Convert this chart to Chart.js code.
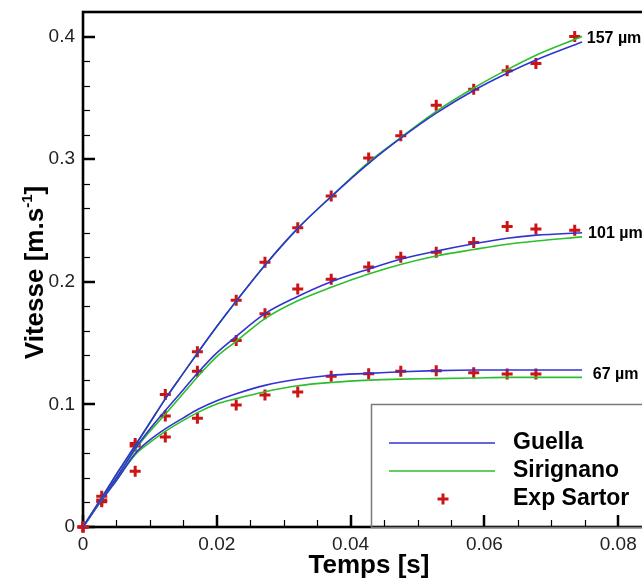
<!DOCTYPE html>
<html>
<head>
<meta charset="utf-8">
<script src="https://cdn.jsdelivr.net/npm/chart.js@4.4.0/dist/chart.umd.min.js"></script>
<style>
html, body { margin: 0; padding: 0; background: #fff; overflow: hidden; }
#wrap { width: 642px; height: 580px; overflow: hidden; }
</style>
</head>
<body>
<div id="wrap"><canvas id="vitesseChart" width="672" height="580"></canvas></div>
<script>
// temps (s) des courbes modeles
var tModel = [0, 0.0028, 0.005, 0.0078, 0.01, 0.0123, 0.015, 0.0172, 0.02, 0.0228, 0.0272, 0.0321, 0.0371, 0.0428, 0.0476, 0.0528, 0.0584, 0.0634, 0.0678, 0.0746];
var guella157 = [0, 0.024, 0.043, 0.0665, 0.085, 0.1045, 0.1255, 0.1425, 0.1635, 0.1835, 0.2135, 0.2435, 0.2695, 0.297, 0.3175, 0.3375, 0.356, 0.370, 0.381, 0.3955];
var sirignano157 = [0, 0.024, 0.043, 0.0665, 0.085, 0.1045, 0.1255, 0.1425, 0.1635, 0.1835, 0.2135, 0.2435, 0.2695, 0.298, 0.318, 0.339, 0.358, 0.373, 0.385, 0.400];
var guella101 = [0, 0.023, 0.040, 0.064, 0.080, 0.095, 0.112, 0.126, 0.142, 0.155, 0.174, 0.188, 0.200, 0.2105, 0.2185, 0.225, 0.231, 0.2355, 0.238, 0.240];
var sirignano101 = [0, 0.023, 0.040, 0.063, 0.078, 0.092, 0.109, 0.123, 0.139, 0.151, 0.170, 0.1845, 0.1955, 0.2065, 0.2143, 0.221, 0.2263, 0.2306, 0.2333, 0.2366];
var guella67 = [0, 0.022, 0.038, 0.060, 0.071, 0.080, 0.089, 0.096, 0.103, 0.1085, 0.1155, 0.1205, 0.1238, 0.1253, 0.1266, 0.1275, 0.128, 0.128, 0.128, 0.128];
var sirignano67 = [0, 0.022, 0.038, 0.059, 0.069, 0.078, 0.087, 0.0935, 0.1003, 0.1045, 0.1103, 0.1152, 0.1179, 0.1198, 0.1206, 0.121, 0.1215, 0.122, 0.122, 0.122];

// mesures Sartor
var tExp = [0, 0.0028, 0.0078, 0.0123, 0.0171, 0.0229, 0.0272, 0.0321, 0.0371, 0.0427, 0.0475, 0.0528, 0.0584, 0.0634, 0.0677, 0.0735];
var exp157 = [0, 0.025, 0.068, 0.108, 0.143, 0.185, 0.216, 0.244, 0.270, 0.301, 0.319, 0.344, 0.357, 0.372, 0.378, 0.400];
var exp101 = [0, 0.022, 0.066, 0.0905, 0.127, 0.152, 0.174, 0.194, 0.202, 0.212, 0.220, 0.224, 0.232, 0.245, 0.243, 0.242];
var exp67 = [0, 0.0205, 0.0455, 0.0735, 0.0886, 0.0994, 0.1076, 0.110, 0.123, 0.125, 0.127, 0.1274, 0.1258, 0.1247, 0.1247];

var xTicks = [0, 0.02, 0.04, 0.06, 0.08];
var xTickLabels = ['0', '0.02', '0.04', '0.06', '0.08'];
var yTicks = [0, 0.1, 0.2, 0.3, 0.4];
var yTickLabels = ['0', '0.1', '0.2', '0.3', '0.4'];

var sizeLabels = ['157 \u00b5m', '101 \u00b5m', '67 \u00b5m'];
var sizeLabelX = [0.0753, 0.0755, 0.0762];
var sizeLabelY = [0.398, 0.2395, 0.1247];

var legendNames = ['Guella', 'Sirignano', 'Exp Sartor'];

var BLUE = '#3232d2';
var GREEN = '#2dbe2d';
var RED = '#cc1414';
var FONT = "'Liberation Sans', Arial, sans-serif";

function pts(xs, ys) {
    return ys.map(function (y, i) { return { x: xs[i], y: y }; });
}

function curve(label, ys, color) {
    return {
        type: 'line', label: label, data: pts(tModel, ys),
        borderColor: color, borderWidth: 1.6, pointRadius: 0,
        cubicInterpolationMode: 'monotone', fill: false
    };
}

function mesures(ys) {
    return {
        type: 'scatter', label: 'Exp Sartor', data: pts(tExp, ys),
        pointStyle: 'cross', pointRadius: 5.5, borderWidth: 3,
        borderColor: RED, backgroundColor: RED, clip: false
    };
}

function line(ctx, x1, y1, x2, y2) {
    ctx.beginPath(); ctx.moveTo(x1, y1); ctx.lineTo(x2, y2); ctx.stroke();
}

var decor = {
    id: 'decor',
    beforeDatasetsDraw: function (chart) {
        var ctx = chart.ctx, a = chart.chartArea, xs = chart.scales.x, ys = chart.scales.y;
        var i, p;
        ctx.save();
        ctx.strokeStyle = '#000';
        // petites graduations
        ctx.lineWidth = 1.2;
        for (i = 1; i * 0.005 < xs.max; i++) {
            if (i % 4 === 0) continue;
            p = Math.round(xs.getPixelForValue(i * 0.005)) + 0.5;
            line(ctx, p, a.bottom, p, a.bottom - 7);
        }
        for (i = 1; i * 0.02 < ys.max; i++) {
            if (i % 5 === 0) continue;
            p = Math.round(ys.getPixelForValue(i * 0.02)) + 0.5;
            line(ctx, a.left, p, a.left + 7, p);
        }
        // grandes graduations
        ctx.lineWidth = 2.5;
        xTicks.forEach(function (v) {
            p = Math.round(xs.getPixelForValue(v));
            line(ctx, p, a.bottom, p, a.bottom - 12);
        });
        yTicks.forEach(function (v) {
            p = Math.round(ys.getPixelForValue(v));
            line(ctx, a.left, p, a.left + 12, p);
        });
        ctx.lineWidth = 2.6;
        ctx.strokeRect(a.left, a.top, a.right - a.left, a.bottom - a.top);
        ctx.restore();
    },
    afterDatasetsDraw: function (chart) {
        var ctx = chart.ctx, a = chart.chartArea, xs = chart.scales.x, ys = chart.scales.y;
        ctx.save();

        // diametres en bout de courbe
        ctx.fillStyle = '#000';
        ctx.font = 'bold 16px ' + FONT;
        ctx.textAlign = 'left';
        ctx.textBaseline = 'middle';
        sizeLabels.forEach(function (s, i) {
            ctx.fillText(s, xs.getPixelForValue(sizeLabelX[i]), ys.getPixelForValue(sizeLabelY[i]));
        });

        // legende
        ctx.strokeStyle = '#7a7a7a';
        ctx.lineWidth = 1.5;
        ctx.strokeRect(371.5, 404.5, 400, a.bottom - 404);
        var rows = [443, 471, 499];
        ctx.lineWidth = 1.6;
        ctx.strokeStyle = BLUE; line(ctx, 389, rows[0], 495, rows[0]);
        ctx.strokeStyle = GREEN; line(ctx, 389, rows[1], 495, rows[1]);
        ctx.strokeStyle = RED; ctx.lineWidth = 3;
        line(ctx, 443 - 5.5, rows[2], 443 + 5.5, rows[2]);
        line(ctx, 443, rows[2] - 5.5, 443, rows[2] + 5.5);
        ctx.fillStyle = '#000';
        ctx.font = 'bold 23px ' + FONT;
        legendNames.forEach(function (n, i) { ctx.fillText(n, 513, rows[i]); });

        // titres des axes
        ctx.font = 'bold 26px ' + FONT;
        ctx.textAlign = 'center';
        ctx.textBaseline = 'alphabetic';
        ctx.fillText('Temps [s]', (a.left + a.right) / 2, 573);

        ctx.translate(43, (a.top + a.bottom) / 2 + 3);
        ctx.rotate(-Math.PI / 2);
        ctx.textAlign = 'left';
        var big = 'bold 26px ' + FONT, small = 'bold 15px ' + FONT;
        var p1 = 'Vitesse [m.s', sup = '-1', p2 = ']';
        ctx.font = big; var w1 = ctx.measureText(p1).width, w3 = ctx.measureText(p2).width;
        ctx.font = small; var w2 = ctx.measureText(sup).width;
        var x0 = -(w1 + w2 + w3) / 2;
        ctx.font = big; ctx.fillText(p1, x0, 0);
        ctx.font = small; ctx.fillText(sup, x0 + w1, -11);
        ctx.font = big; ctx.fillText(p2, x0 + w1 + w2, 0);
        ctx.restore();
    }
};

document.addEventListener('DOMContentLoaded', function () {
    var ctx = document.getElementById('vitesseChart').getContext('2d');
    var tickFont = { family: FONT, size: 19 };
    new Chart(ctx, {
        type: 'scatter',
        data: {
            datasets: [
                curve('Guella', guella157, BLUE),
                curve('Sirignano', sirignano157, GREEN),
                curve('Guella', guella101, BLUE),
                curve('Sirignano', sirignano101, GREEN),
                curve('Guella', guella67, BLUE),
                curve('Sirignano', sirignano67, GREEN),
                mesures(exp157),
                mesures(exp101),
                mesures(exp67)
            ]
        },
        options: {
            responsive: false,
            devicePixelRatio: 1,
            animation: false,
            layout: { padding: { left: 0, right: 17, top: 12, bottom: 0 } },
            plugins: { legend: { display: false }, tooltip: { enabled: false } },
            scales: {
                x: {
                    type: 'linear', min: 0, max: 0.0855,
                    afterBuildTicks: function (s) { s.ticks = xTicks.map(function (v) { return { value: v }; }); },
                    afterFit: function (s) { s.height = 53; s.paddingLeft = 0; s.paddingRight = 0; },
                    grid: { display: false, drawTicks: false },
                    border: { display: false },
                    ticks: {
                        autoSkip: false, maxRotation: 0, padding: 6, color: '#222', font: tickFont,
                        callback: function (v) { return xTickLabels[xTicks.indexOf(v)]; }
                    }
                },
                y: {
                    type: 'linear', min: 0, max: 0.42,
                    afterBuildTicks: function (s) { s.ticks = yTicks.map(function (v) { return { value: v }; }); },
                    afterFit: function (s) { s.width = 83; s.paddingTop = 0; s.paddingBottom = 0; },
                    grid: { display: false, drawTicks: false },
                    border: { display: false },
                    ticks: {
                        padding: 8, color: '#222', font: tickFont,
                        callback: function (v) { return yTickLabels[yTicks.indexOf(v)]; }
                    }
                }
            }
        },
        plugins: [decor]
    });
});
</script>
</body>
</html>
